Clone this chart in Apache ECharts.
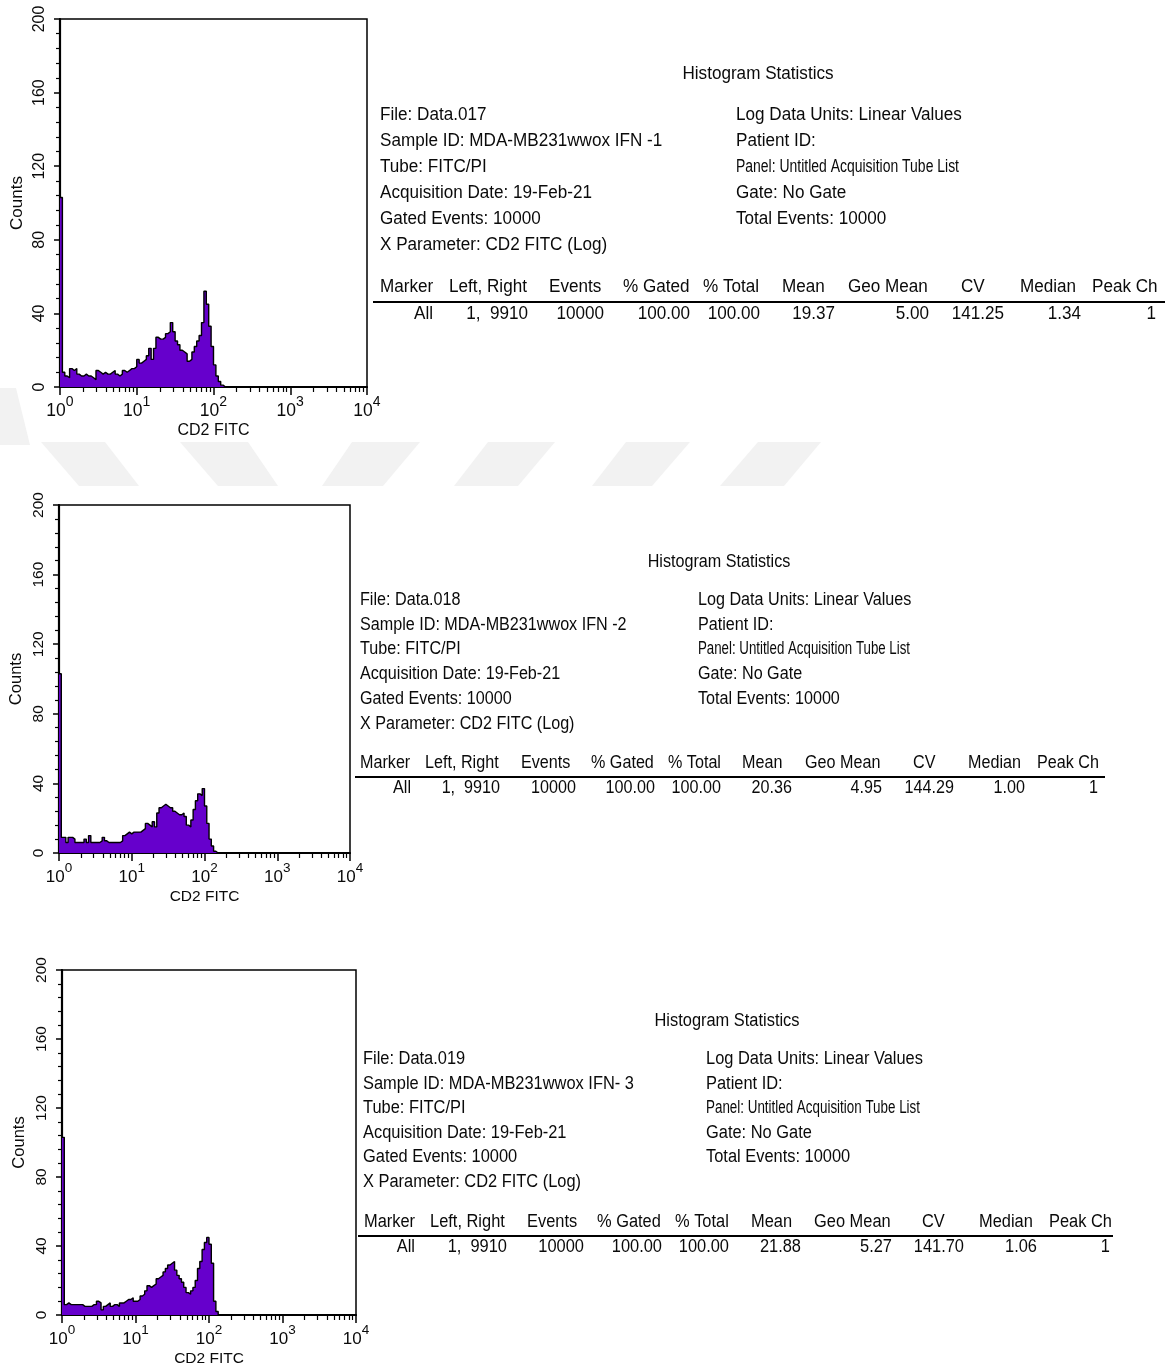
<!DOCTYPE html>
<html>
<head>
<meta charset="utf-8">
<script src="https://cdn.jsdelivr.net/npm/echarts@6/dist/echarts.min.js"></script>
<style>
  html, body { margin: 0; padding: 0; background: #fff; }
  #chart { width: 1176px; height: 1368px; }
</style>
</head>
<body>
<div id="chart"></div>
<script>
// ---- data -------------------------------------------------------------
// CD2 FITC histograms, 32 channels per decade starting at 10^0
const CHANNELS_PER_DECADE = 32;
const decadeTicks = [0, 1, 2, 3, 4];
const countTicks = [0, 40, 80, 120, 160, 200];

const counts017 = [103,8,6,5,10,9,10,7,6,6,7,6,6,5,4,9,8,7,8,7,7,8,9,7,6,7,9,8,9,10,10,11,
  15,13,14,15,17,21,15,21,27,26,26,27,29,30,35,30,25,23,20,19,18,14,15,19,22,25,28,35,52,45,
  33,22,12,6,3,1,0];
const counts018 = [103,9,9,6,9,9,8,6,6,6,6,8,6,10,6,6,6,6,7,9,7,6,6,6,6,6,6,7,10,11,12,11,
  12,12,12,12,13,14,17,16,15,18,15,23,26,27,28,27,26,26,24,23,22,22,23,21,16,15,19,25,30,34,
  33,37,27,17,8,4,1,0];
const counts019 = [103,6,7,6,6,6,6,6,6,5,5,5,5,6,6,8,7,3,5,6,7,5,6,6,5,7,7,8,9,9,10,8,
  8,9,11,12,14,17,16,17,18,21,22,23,25,27,29,30,31,26,23,21,19,16,13,12,14,16,20,27,31,38,
  42,45,41,30,8,2,0];

const statsTitle = 'Histogram Statistics';
const infoLeft017 = ['File: Data.017', 'Sample ID: MDA-MB231wwox IFN -1', 'Tube: FITC/PI',
  'Acquisition Date: 19-Feb-21', 'Gated Events: 10000', 'X Parameter: CD2 FITC (Log)'];
const infoLeft018 = ['File: Data.018', 'Sample ID: MDA-MB231wwox IFN -2', 'Tube: FITC/PI',
  'Acquisition Date: 19-Feb-21', 'Gated Events: 10000', 'X Parameter: CD2 FITC (Log)'];
const infoLeft019 = ['File: Data.019', 'Sample ID: MDA-MB231wwox IFN- 3', 'Tube: FITC/PI',
  'Acquisition Date: 19-Feb-21', 'Gated Events: 10000', 'X Parameter: CD2 FITC (Log)'];
const infoRight = ['Log Data Units: Linear Values', 'Patient ID:',
  'Panel: Untitled Acquisition Tube List', 'Gate: No Gate', 'Total Events: 10000'];
const tableHeader = ['Marker', 'Left, Right', 'Events', '% Gated', '% Total', 'Mean',
  'Geo Mean', 'CV', 'Median', 'Peak Ch'];
const row017 = ['All', '1,  9910', '10000', '100.00', '100.00', '19.37', '5.00', '141.25', '1.34', '1'];
const row018 = ['All', '1,  9910', '10000', '100.00', '100.00', '20.36', '4.95', '144.29', '1.00', '1'];
const row019 = ['All', '1,  9910', '10000', '100.00', '100.00', '21.88', '5.27', '141.70', '1.06', '1'];

// ---- layout -----------------------------------------------------------
const FONT = '"Liberation Sans", Arial, Helvetica, sans-serif';
const PURPLE = '#6600cc';
const INK = '#0a0a0a';

const panels = [
  {
    counts: counts017, left: infoLeft017, row: row017,
    grid: { left: 60, top: 19, width: 307, height: 368 }, axisFs: 16,
    st: { titleX: 758, titleY: 74, leftX: 380, rightX: 736, y0: 115, dy: 26, fs: 18,
      panelW: 223, headY: 287, lineY: 302, lineX0: 373, lineX1: 1165, rowY: 314,
      headX: [380, 449, 549, 623, 703, 782, 848, 961, 1020, 1092],
      rowR: [433, 528, 604, 690, 760, 835, 929, 1004, 1081, 1156] }
  },
  {
    counts: counts018, left: infoLeft018, row: row018,
    grid: { left: 59, top: 505, width: 291, height: 348 }, axisFs: 15.5,
    st: { titleX: 719, titleY: 562, leftX: 360, rightX: 698, y0: 600, dy: 24.8, fs: 17,
      panelW: 212, headY: 763, lineY: 777, lineX0: 355, lineX1: 1105, rowY: 788,
      headX: [360, 425, 521, 591, 668, 742, 805, 913, 968, 1037],
      rowR: [411, 500, 576, 655, 721, 792, 882, 954, 1025, 1098] }
  },
  {
    counts: counts019, left: infoLeft019, row: row019,
    grid: { left: 62, top: 970, width: 294, height: 347 }, axisFs: 15.5,
    st: { titleX: 727, titleY: 1021, leftX: 363, rightX: 706, y0: 1059, dy: 24.6, fs: 17.3,
      panelW: 214, headY: 1222, lineY: 1236, lineX0: 358, lineX1: 1113, rowY: 1247,
      headX: [364, 430, 527, 597, 675, 751, 814, 922, 979, 1049],
      rowR: [415, 507, 584, 662, 729, 801, 892, 964, 1037, 1110] }
  }
];

// log-decade positions of the 2..9 minor ticks
const minorTickDecades = [];
for (let d = 0; d < 4; d++) {
  for (let m = 2; m <= 9; m++) minorTickDecades.push(d + Math.log10(m));
}

const measureCtx = document.createElement('canvas').getContext('2d');
function textWidth(t, size) {
  measureCtx.font = size + 'px ' + FONT;
  return measureCtx.measureText(t).width;
}

function label(x, y, text, size, align, sx) {
  return {
    type: 'text', x: x, y: y, scaleX: sx || 0.95, scaleY: 1.04, silent: true,
    style: {
      text: text, x: 0, y: 0, fill: INK, font: size + 'px ' + FONT,
      textAlign: align, align: align, textVerticalAlign: 'middle', verticalAlign: 'middle'
    }
  };
}

// faint diagonal watermark bands between the first two panels
const watermarkBands = [
  [[0, 388], [16, 388], [30, 445], [0, 445]],
  [[41, 442], [105, 442], [139, 486], [79, 486]],
  [[180, 442], [248, 442], [278, 486], [218, 486]],
  [[352, 442], [420, 442], [383, 486], [322, 486]],
  [[488, 442], [555, 442], [518, 486], [454, 486]],
  [[626, 442], [690, 442], [652, 486], [592, 486]],
  [[758, 442], [821, 442], [784, 486], [720, 486]]
];

const grids = [], xAxes = [], yAxes = [], series = [], graphics = [];

watermarkBands.forEach(pts => graphics.push({
  type: 'polygon', z: -10, silent: true, shape: { points: pts }, style: { fill: '#f2f2f2' }
}));

panels.forEach((p, i) => {
  grids.push(Object.assign({ show: true, borderColor: '#000', borderWidth: 1.5,
    backgroundColor: 'transparent', containLabel: false }, p.grid));

  xAxes.push({
    type: 'value', gridIndex: i, position: 'bottom', min: decadeTicks[0],
    max: decadeTicks[decadeTicks.length - 1], interval: 1,
    axisLine: { show: true, lineStyle: { color: '#000', width: 2 } },
    axisTick: { show: true, inside: false, length: 8, lineStyle: { color: '#000', width: 1.5 } },
    splitLine: { show: false },
    axisLabel: {
      margin: 8, color: INK, fontFamily: FONT,
      formatter: v => '{b|10}{s|' + v + '}',
      rich: {
        b: { fontSize: p.axisFs + 1.5, fontFamily: FONT, color: INK, lineHeight: 25,
          verticalAlign: 'bottom' },
        s: { fontSize: p.axisFs - 2, fontFamily: FONT, color: INK, lineHeight: 14,
          verticalAlign: 'top' }
      }
    },
    name: 'CD2 FITC', nameLocation: 'middle', nameGap: 36,
    nameTextStyle: { fontSize: p.axisFs, fontFamily: FONT, color: INK }
  });
  xAxes.push({
    type: 'value', gridIndex: i, position: 'bottom', min: decadeTicks[0],
    max: decadeTicks[decadeTicks.length - 1],
    axisLine: { show: false },
    axisTick: { show: true, inside: false, length: 5, customValues: minorTickDecades,
      lineStyle: { color: '#000', width: 1.2 } },
    axisLabel: { show: false },
    splitLine: { show: false }
  });

  yAxes.push({
    type: 'value', gridIndex: i, min: countTicks[0], max: countTicks[countTicks.length - 1],
    interval: countTicks[1] - countTicks[0],
    axisLine: { show: true, lineStyle: { color: '#000', width: 2.2 } },
    axisTick: { show: true, inside: false, length: 6, lineStyle: { color: '#000', width: 1.5 } },
    minorTick: { show: true, splitNumber: 5, length: 4, lineStyle: { color: '#000', width: 1.2 } },
    splitLine: { show: false }, minorSplitLine: { show: false },
    axisLabel: { rotate: 90, margin: 12, fontSize: p.axisFs, fontFamily: FONT, color: INK },
    name: 'Counts', nameLocation: 'middle', nameGap: 34, nameRotate: 90,
    nameTextStyle: { fontSize: p.axisFs + 1, fontFamily: FONT, color: INK }
  });

  const data = p.counts.map((c, k) => [k / CHANNELS_PER_DECADE, c]);
  data.push([p.counts.length / CHANNELS_PER_DECADE, 0]);
  series.push({
    type: 'line', xAxisIndex: 2 * i, yAxisIndex: i, step: 'end', symbol: 'none',
    data: data, silent: true, clip: true,
    lineStyle: { color: '#000', width: 1.4 },
    areaStyle: { color: PURPLE, opacity: 1 }
  });

  // statistics block
  const s = p.st;
  graphics.push(label(s.titleX, s.titleY, statsTitle, s.fs, 'center'));
  p.left.forEach((t, j) => graphics.push(label(s.leftX, s.y0 + j * s.dy, t, s.fs, 'left')));
  infoRight.forEach((t, j) => {
    const sx = t.indexOf('Panel:') === 0 ? s.panelW / textWidth(t, s.fs) : 0.95;
    graphics.push(label(s.rightX, s.y0 + j * s.dy, t, s.fs, 'left', sx));
  });
  tableHeader.forEach((t, j) => graphics.push(label(s.headX[j], s.headY, t, s.fs, 'left')));
  graphics.push({
    type: 'line', silent: true,
    shape: { x1: s.lineX0, y1: s.lineY, x2: s.lineX1, y2: s.lineY },
    style: { stroke: '#000', lineWidth: 2 }
  });
  p.row.forEach((t, j) => graphics.push(label(s.rowR[j], s.rowY, t, s.fs, 'right')));
});

const chart = echarts.init(document.getElementById('chart'), null, { renderer: 'canvas' });
chart.setOption({
  backgroundColor: '#fff',
  animation: false,
  textStyle: { fontFamily: FONT },
  grid: grids,
  xAxis: xAxes,
  yAxis: yAxes,
  series: series,
  graphic: { elements: graphics }
});
</script>
</body>
</html>
